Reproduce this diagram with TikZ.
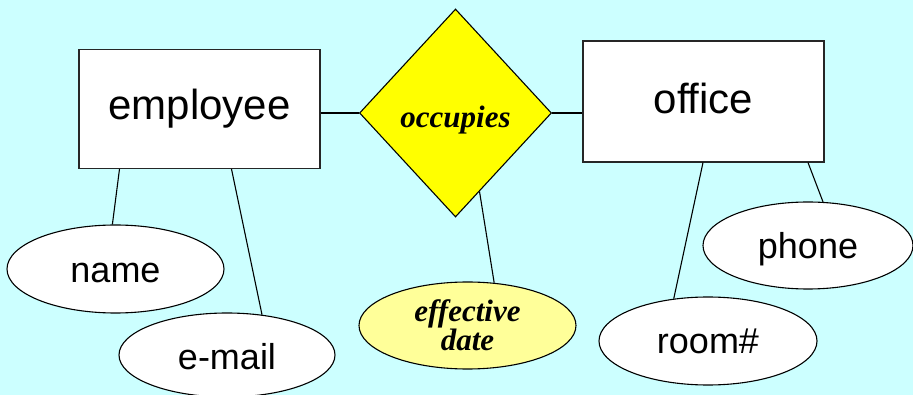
\documentclass[tikz,border=0pt]{standalone}
\usepackage{fontspec}
\setmainfont{Liberation Sans}
\newfontfamily\erserif{Liberation Serif}
\usetikzlibrary{shapes.geometric}
\definecolor{bgcyan}{RGB}{204,255,255}
\definecolor{relyellow}{RGB}{255,255,0}
\definecolor{attryellow}{RGB}{255,255,153}
% shift a label inside its node: pad the box above (moves text down) or below (moves it up)
\newcommand\txtdown[2]{\raisebox{0pt}[\dimexpr\height+#1\relax][\depth]{#2}}
\newcommand\txtup[2]{\raisebox{0pt}[\height][\dimexpr\depth+#1\relax]{#2}}
\begin{document}
\begin{tikzpicture}[x=1pt,y=-1pt,
  entity/.style={draw=black!85,line width=1.1pt,fill=white,rectangle,inner sep=0pt,
    font=\fontsize{42}{46}\selectfont},
  relation/.style={draw=black,line width=1.1pt,fill=relyellow,diamond,inner sep=0pt,
    minimum width=192pt,minimum height=208pt,
    font=\erserif\bfseries\itshape\fontsize{31}{32}\selectfont},
  attrib/.style={draw=black,line width=1.1pt,fill=white,ellipse,inner sep=0pt,
    font=\fontsize{36}{40}\selectfont},
  relattrib/.style={attrib,fill=attryellow,align=center,
    font=\erserif\bfseries\itshape\fontsize{31}{29}\selectfont},
  link/.style={line width=1.1pt,black}]
  % canvas
  \fill[bgcyan] (0,0) rectangle (913,395);
  \useasboundingbox (0,0) rectangle (913,395);

  % entities and relationship
  \node[entity,minimum width=241pt,minimum height=119pt] (employee) at (199.5,109) {employee};
  \node[entity,minimum width=241pt,minimum height=121pt] (office) at (703.5,101.5) {\txtup{6pt}{office}};
  \node[relation] (occ) at (455.5,113) {\txtdown{14pt}{occupies}};

  % attributes
  \node[attrib,minimum width=217pt,minimum height=88pt] (name) at (115.5,269) {\txtdown{7pt}{name}};
  \node[attrib,minimum width=216pt,minimum height=84pt] (email) at (227,355) {\txtdown{4pt}{e-mail}};
  \node[relattrib,minimum width=217pt,minimum height=87pt] (eff) at (467.5,325.5) {effective\\date};
  \node[attrib,minimum width=210pt,minimum height=87pt] (phone) at (808,245.5) {\txtdown{7pt}{phone}};
  \node[attrib,minimum width=218pt,minimum height=88pt] (room) at (708,341) {room\#};

  % connectors
  \draw[link] (employee.east |- occ.west) -- (occ.west);
  \draw[link] (occ.east) -- (office.west |- occ.east);
  \draw[link] ([xshift=-80pt]employee.south) -- (name.94);
  \draw[link] ([xshift=32pt]employee.south) -- (email.49);
  \draw[link] (occ.-73) -- (eff.58);
  \draw[link] ([xshift=-0.5pt]office.south) -- (room.129);
  \draw[link] ([xshift=104.5pt]office.south) -- (phone.71);
\end{tikzpicture}
\end{document}
